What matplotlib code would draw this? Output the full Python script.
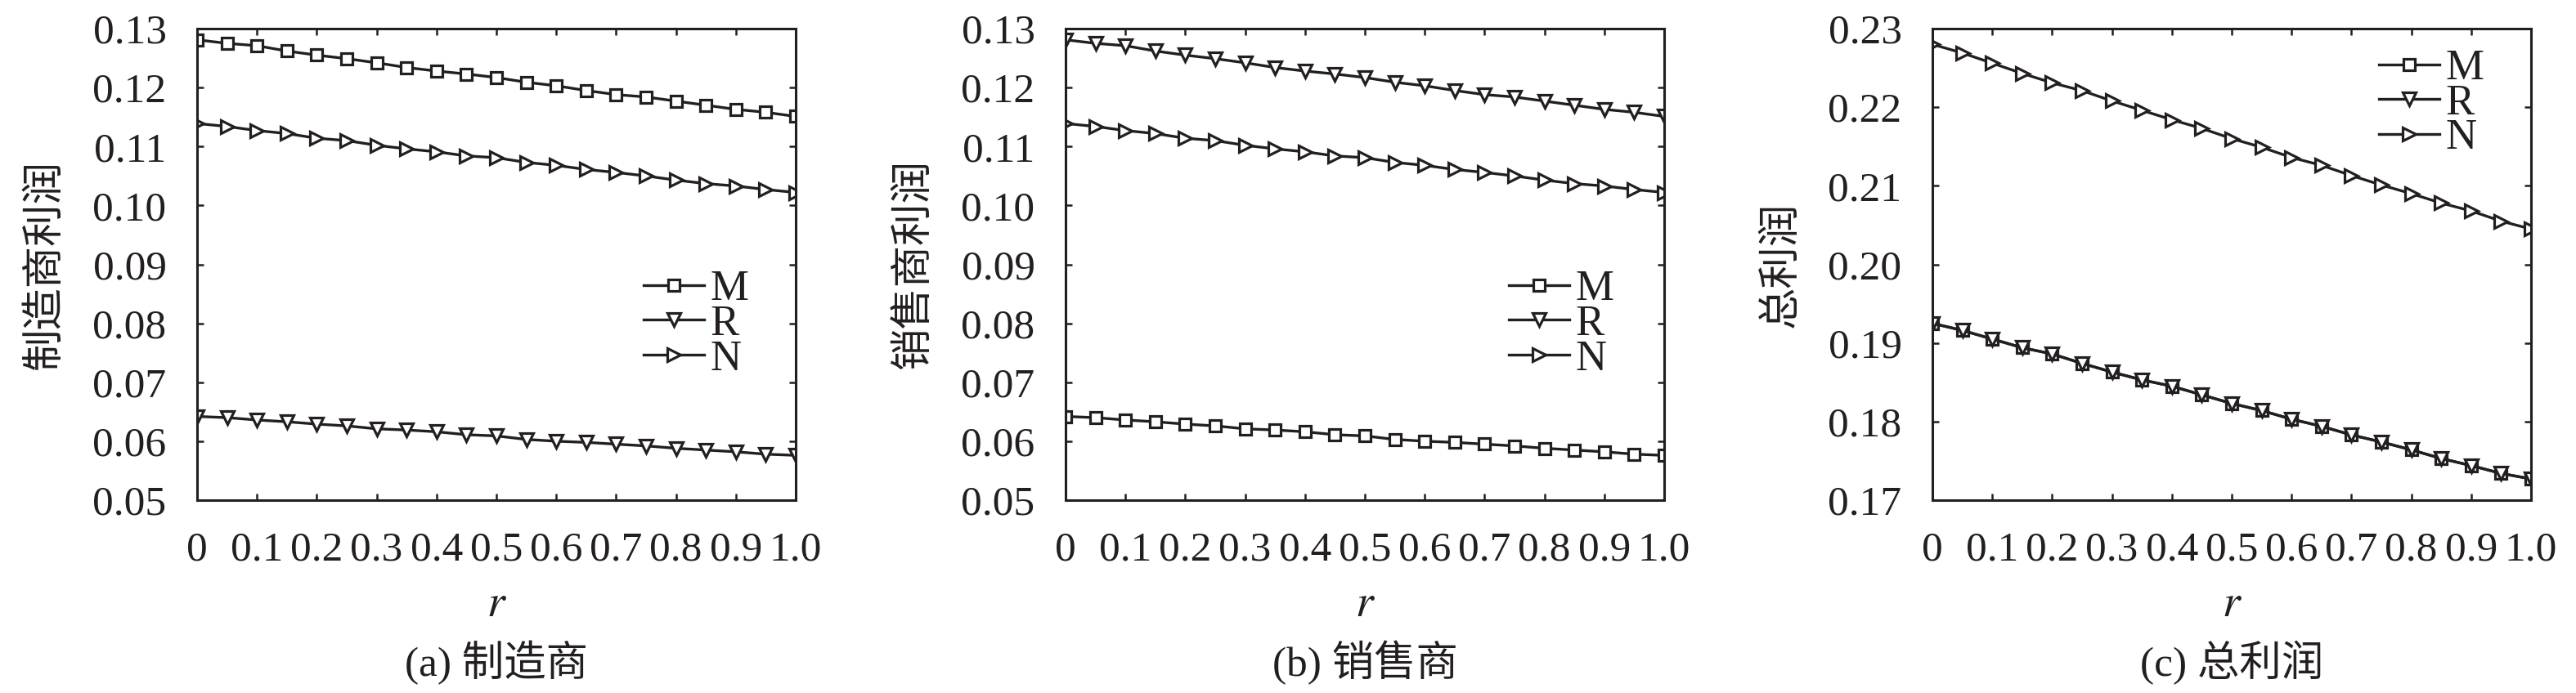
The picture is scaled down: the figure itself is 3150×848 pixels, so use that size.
import matplotlib
matplotlib.use('Agg')
import matplotlib.pyplot as plt

plt.rcParams['font.family'] = ['Liberation Serif', 'Noto Sans CJK SC']
plt.rcParams['mathtext.fontset'] = 'stix'

# r values (x axis)
r = [0, 0.05, 0.1, 0.15, 0.2, 0.25, 0.3, 0.35, 0.4, 0.45, 0.5,
     0.55, 0.6, 0.65, 0.7, 0.75, 0.8, 0.85, 0.9, 0.95, 1.0]

# (a) manufacturer profit
mfr_M = [0.1281, 0.1275, 0.1271, 0.1262, 0.1255, 0.1249, 0.1242, 0.1234, 0.1228, 0.1223, 0.1217,
         0.1209, 0.1203, 0.1195, 0.1188, 0.1184, 0.1177, 0.1170, 0.1163, 0.1158, 0.1151]
mfr_R = [0.0642, 0.0640, 0.0636, 0.0633, 0.0629, 0.0626, 0.0621, 0.0619, 0.0616, 0.0611, 0.0609,
         0.0603, 0.0600, 0.0598, 0.0595, 0.0592, 0.0588, 0.0585, 0.0582, 0.0578, 0.0576]
mfr_N = [0.1139, 0.1134, 0.1127, 0.1122, 0.1114, 0.1110, 0.1102, 0.1096, 0.1091, 0.1084, 0.1081,
         0.1073, 0.1068, 0.1061, 0.1056, 0.1050, 0.1043, 0.1037, 0.1033, 0.1027, 0.1022]

# (b) retailer profit
ret_M = [0.0642, 0.0640, 0.0636, 0.0633, 0.0629, 0.0626, 0.0621, 0.0619, 0.0616, 0.0611, 0.0609,
         0.0603, 0.0600, 0.0598, 0.0595, 0.0592, 0.0588, 0.0585, 0.0582, 0.0578, 0.0576]
ret_R = [0.1281, 0.1275, 0.1271, 0.1262, 0.1255, 0.1249, 0.1242, 0.1234, 0.1228, 0.1223, 0.1217,
         0.1209, 0.1203, 0.1195, 0.1188, 0.1184, 0.1177, 0.1170, 0.1163, 0.1158, 0.1151]
ret_N = [0.1139, 0.1134, 0.1127, 0.1122, 0.1114, 0.1110, 0.1102, 0.1096, 0.1091, 0.1084, 0.1081,
         0.1073, 0.1068, 0.1061, 0.1056, 0.1050, 0.1043, 0.1037, 0.1033, 0.1027, 0.1022]

# (c) total profit
tot_M = [0.1925, 0.1916, 0.1905, 0.1894, 0.1886, 0.1874, 0.1863, 0.1853, 0.1845, 0.1834, 0.1823,
         0.1814, 0.1803, 0.1794, 0.1783, 0.1774, 0.1764, 0.1753, 0.1744, 0.1734, 0.1727]
tot_R = [0.1925, 0.1916, 0.1905, 0.1894, 0.1886, 0.1874, 0.1863, 0.1853, 0.1845, 0.1834, 0.1823,
         0.1814, 0.1803, 0.1794, 0.1783, 0.1774, 0.1764, 0.1753, 0.1744, 0.1734, 0.1727]
tot_N = [0.2280, 0.2269, 0.2256, 0.2243, 0.2231, 0.2221, 0.2208, 0.2196, 0.2184, 0.2173, 0.2160,
         0.2149, 0.2136, 0.2126, 0.2113, 0.2101, 0.2090, 0.2078, 0.2068, 0.2055, 0.2045]

xticks = [0, 0.1, 0.2, 0.3, 0.4, 0.5, 0.6, 0.7, 0.8, 0.9, 1.0]
xticklabels = ['0', '0.1', '0.2', '0.3', '0.4', '0.5', '0.6', '0.7', '0.8', '0.9', '1.0']
yticks_ab = [0.05, 0.06, 0.07, 0.08, 0.09, 0.10, 0.11, 0.12, 0.13]
yticks_c = [0.17, 0.18, 0.19, 0.20, 0.21, 0.22, 0.23]

panels = [
    ('制造商利润', '(a) 制造商', mfr_M, mfr_R, mfr_N, yticks_ab, (0.746, 0.373)),
    ('销售商利润', '(b) 销售商', ret_M, ret_R, ret_N, yticks_ab, (0.740, 0.373)),
    ('总利润', '(c) 总利润', tot_M, tot_R, tot_N, yticks_c, (0.746, 0.841)),
]

col = '#231f20'
fig = plt.figure(figsize=(31.5, 8.48), dpi=100)
lefts = [241, 1303, 2363]
W, H = 3150, 848
for (ylab, cap, yM, yR, yN, yt, legpos), lx in zip(panels, lefts):
    ax = fig.add_axes([lx / W, 1 - 612 / H, 732 / W, 577 / H])
    kw = dict(color=col, lw=2.4, mfc='white', mec=col, mew=2.3)
    ax.plot(r, yM, marker='s', ms=10, label='M', **kw)
    ax.plot(r, yR, marker='v', ms=11.5, label='R', **kw)
    ax.plot(r, yN, marker='>', ms=11.5, label='N', **kw)
    ax.set_xlim(0, 1.0)
    ax.set_ylim(yt[0], yt[-1])
    ax.set_xticks(xticks)
    ax.set_xticklabels(xticklabels)
    ax.set_yticks(yt)
    ax.set_yticklabels(['%.2f' % v for v in yt])
    ax.tick_params(direction='in', top=True, right=True, length=6, width=1.8,
                   labelsize=37, pad=27, color=col, labelcolor=col)
    for s in ax.spines.values():
        s.set_linewidth(2.2)
        s.set_color(col)
    ax.set_ylabel(ylab, fontsize=37, color=col)
    ax.yaxis.set_label_coords(-0.252, 0.5)
    ax.yaxis.label.set_verticalalignment('center')
    ax.set_xlabel('$r$', fontsize=40, color=col)
    ax.xaxis.set_label_coords(0.5, -0.222)
    ax.xaxis.label.set_verticalalignment('center')
    ax.text(0.5, -0.345, cap, transform=ax.transAxes, ha='center', va='center',
            fontsize=37, color=col)
    ax.legend(loc='center left', bbox_to_anchor=legpos, frameon=False, fontsize=38,
              handlelength=1.4, handletextpad=0.15, labelspacing=-0.1,
              borderpad=0, borderaxespad=0, numpoints=1, labelcolor=col)

fig.savefig('out.png', dpi=100)
